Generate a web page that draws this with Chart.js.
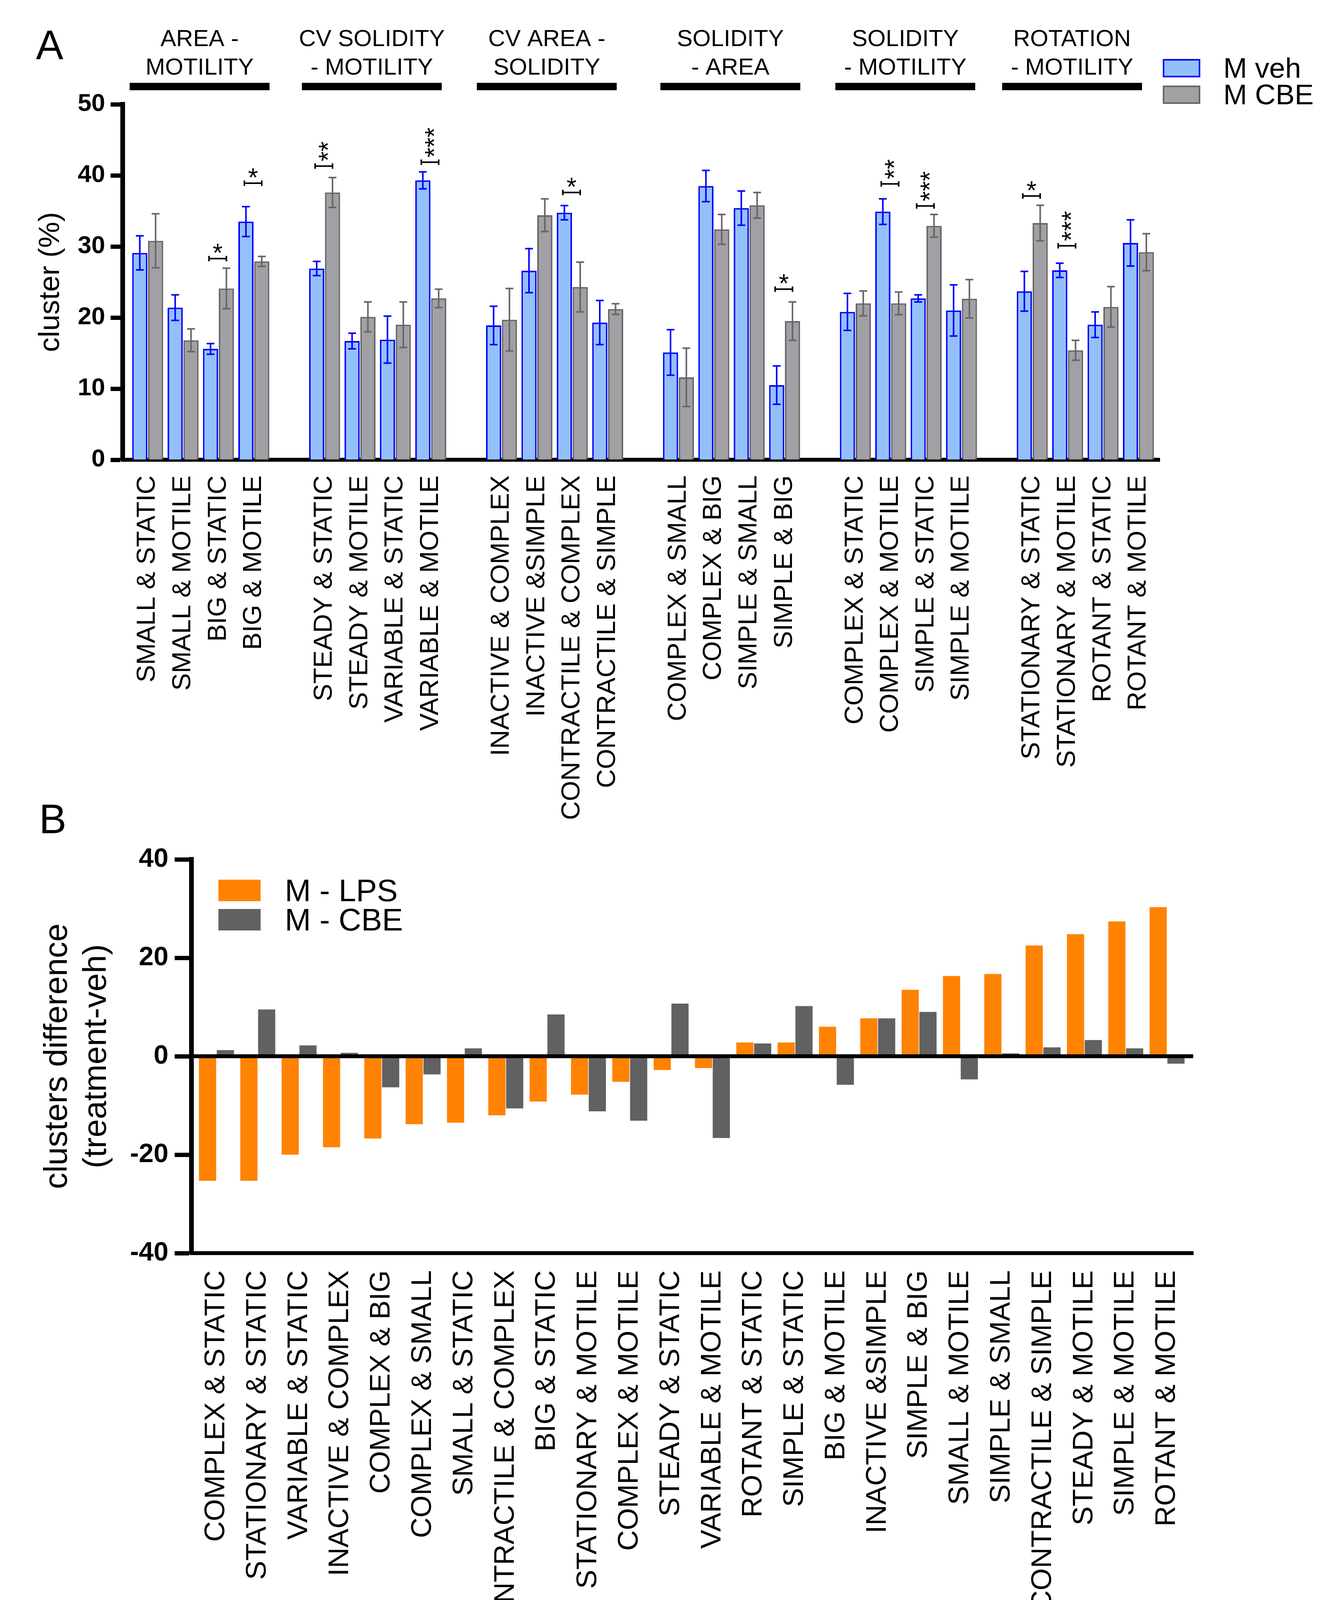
<!DOCTYPE html>
<html><head><meta charset="utf-8">
<script src="https://cdn.jsdelivr.net/npm/chart.js@4.4.1/dist/chart.umd.min.js"></script>
<style>
html,body{margin:0;padding:0;background:#fff;width:3404px;height:4280px;overflow:hidden}
canvas{position:absolute;left:0}
</style></head>
<body>
<canvas id="ca" width="3404" height="2200" style="top:0;width:3404px;height:2200px"></canvas>
<canvas id="cb" width="3404" height="2280" style="top:2000px;width:3404px;height:2280px"></canvas>
<script>
const FONT = "'Liberation Sans', Arial, Helvetica, sans-serif";

// ---------- Panel A data ----------
const groupsA = [
  ['AREA -', 'MOTILITY'],
  ['CV SOLIDITY', '- MOTILITY'],
  ['CV AREA -', 'SOLIDITY'],
  ['SOLIDITY', '- AREA'],
  ['SOLIDITY', '- MOTILITY'],
  ['ROTATION', '- MOTILITY']
];
const categoriesA = [
  'SMALL & STATIC', 'SMALL & MOTILE', 'BIG & STATIC', 'BIG & MOTILE',
  'STEADY & STATIC', 'STEADY & MOTILE', 'VARIABLE & STATIC', 'VARIABLE & MOTILE',
  'INACTIVE & COMPLEX', 'INACTIVE &SIMPLE', 'CONTRACTILE & COMPLEX', 'CONTRACTILE & SIMPLE',
  'COMPLEX & SMALL', 'COMPLEX & BIG', 'SIMPLE & SMALL', 'SIMPLE & BIG',
  'COMPLEX & STATIC', 'COMPLEX & MOTILE', 'SIMPLE & STATIC', 'SIMPLE & MOTILE',
  'STATIONARY & STATIC', 'STATIONARY & MOTILE', 'ROTANT & STATIC', 'ROTANT & MOTILE'
];
const vehMean = [29.1, 21.4, 15.6, 33.5, 26.9, 16.7, 16.9, 39.3, 18.9, 26.6, 34.75, 19.3,
                 15.1, 38.5, 35.4, 10.5, 20.8, 34.9, 22.7, 21.0, 23.7, 26.65, 19.0, 30.5];
const vehErr  = [2.4, 1.8, 0.75, 2.1, 1.0, 1.1, 3.3, 1.2, 2.7, 3.1, 1.0, 3.1,
                 3.2, 2.2, 2.4, 2.7, 2.6, 1.8, 0.5, 3.6, 2.8, 1.0, 1.8, 3.25];
const cbeMean = [30.8, 16.8, 24.1, 27.9, 37.6, 20.1, 19.0, 22.7, 19.7, 34.4, 24.3, 21.2,
                 11.6, 32.4, 35.8, 19.5, 22.0, 22.0, 32.9, 22.65, 33.3, 15.4, 21.5, 29.2];
const cbeErr  = [3.8, 1.6, 2.85, 0.7, 2.1, 2.1, 3.2, 1.3, 4.4, 2.3, 3.5, 0.75,
                 4.1, 2.1, 1.8, 2.7, 1.75, 1.6, 1.6, 2.7, 2.5, 1.4, 2.85, 2.6];
const ticksA = [0, 10, 20, 30, 40, 50];
// significance: category index, label, bracket height (y value)
const sigIndex = [2, 3, 4, 7, 10, 15, 17, 18, 20, 21];
const sigStars = ['*', '*', '**', '***', '*', '*', '**', '***', '*', '***'];
const sigY     = [28.3, 38.9, 41.3, 41.85, 37.6, 24.0, 38.8, 35.7, 37.1, 30.1];

// ---------- Panel B data ----------
const categoriesB = [
  'COMPLEX & STATIC', 'STATIONARY & STATIC', 'VARIABLE & STATIC', 'INACTIVE & COMPLEX',
  'COMPLEX & BIG', 'COMPLEX & SMALL', 'SMALL & STATIC', 'CONTRACTILE & COMPLEX',
  'BIG & STATIC', 'STATIONARY & MOTILE', 'COMPLEX & MOTILE', 'STEADY & STATIC',
  'VARIABLE & MOTILE', 'ROTANT & STATIC', 'SIMPLE & STATIC', 'BIG & MOTILE',
  'INACTIVE &SIMPLE', 'SIMPLE & BIG', 'SMALL & MOTILE', 'SIMPLE & SMALL',
  'CONTRACTILE & SIMPLE', 'STEADY & MOTILE', 'SIMPLE & MOTILE', 'ROTANT & MOTILE'
];
const lpsDiff = [-25.3, -25.3, -20.0, -18.5, -16.7, -13.8, -13.5, -12.0, -9.2, -7.8, -5.2, -2.8,
                 -2.4, 2.8, 2.8, 6.0, 7.7, 13.5, 16.3, 16.7, 22.5, 24.8, 27.4, 30.3];
const cbeDiff = [1.25, 9.5, 2.2, 0.7, -6.3, -3.7, 1.6, -10.6, 8.5, -11.2, -13.1, 10.7,
                 -16.6, 2.6, 10.2, -5.8, 7.7, 9.0, -4.7, 0.6, 1.8, 3.3, 1.6, -1.5];
const ticksB = [-40, -20, 0, 20, 40];

// ---------- helpers ----------
Chart.defaults.font.family = FONT;
Chart.defaults.color = '#000';

const slotA = categoriesA.map((_, i) => Math.floor(i / 4) * 5 + (i % 4));
const labelBySlotA = {};
slotA.forEach((s, i) => { labelBySlotA[s] = categoriesA[i]; });
const slotB = categoriesB.map((_, i) => i);

const VEH_FILL = '#94C0FA', VEH_LINE = '#0000FF';
const CBE_FILL = '#A1A0A5', CBE_LINE = '#666666';
const LPS_COL = '#FF8200', CBEB_COL = '#616161';

const errorBars = {
  id: 'errorBars',
  afterDatasetsDraw(chart) {
    const { ctx, scales: { y } } = chart;
    chart.data.datasets.forEach((ds, di) => {
      if (!ds.errors) return;
      const meta = chart.getDatasetMeta(di);
      ctx.save();
      ctx.strokeStyle = ds.errColor;
      ctx.lineWidth = 4;
      meta.data.forEach((el, j) => {
        const v = ds.data[j].y, e = ds.errors[j];
        const yt = y.getPixelForValue(v + e), yb = y.getPixelForValue(v - e);
        ctx.beginPath();
        ctx.moveTo(el.x, yt); ctx.lineTo(el.x, yb);
        ctx.moveTo(el.x - 10, yt); ctx.lineTo(el.x + 10, yt);
        ctx.moveTo(el.x - 10, yb); ctx.lineTo(el.x + 10, yb);
        ctx.stroke();
      });
      ctx.restore();
    });
  }
};

const sigPlugin = {
  id: 'sig',
  afterDatasetsDraw(chart) {
    const { ctx, scales: { y } } = chart;
    const m0 = chart.getDatasetMeta(0), m1 = chart.getDatasetMeta(1);
    ctx.save();
    ctx.strokeStyle = '#000'; ctx.fillStyle = '#000'; ctx.lineWidth = 4;
    sigIndex.forEach((idx, k) => {
      const x0 = m0.data[idx].x - 4, x1 = m1.data[idx].x;
      const yy = y.getPixelForValue(sigY[k]);
      ctx.beginPath();
      ctx.moveTo(x0, yy); ctx.lineTo(x1, yy);
      ctx.moveTo(x0, yy - 7); ctx.lineTo(x0, yy + 7);
      ctx.moveTo(x1, yy - 7); ctx.lineTo(x1, yy + 7);
      ctx.stroke();
      const cx = (x0 + x1) / 2;
      ctx.font = `66px ${FONT}`;
      if (sigStars[k].length === 1) {
        ctx.textAlign = 'center'; ctx.textBaseline = 'alphabetic';
        ctx.fillText(sigStars[k], cx, yy + 8);
      } else {
        ctx.save();
        ctx.translate(cx + 15, yy - 12);
        ctx.rotate(-Math.PI / 2);
        ctx.textAlign = 'left'; ctx.textBaseline = 'middle';
        ctx.fillText(sigStars[k], 0, 0);
        ctx.restore();
      }
    });
    ctx.restore();
  }
};

const HEADER_SHIFT = [-3, -15, -20, -3, -8, -34];
const decorA = {
  id: 'decorA',
  afterDraw(chart) {
    const { ctx, scales: { x } } = chart;
    ctx.save();
    ctx.fillStyle = '#000';
    ctx.font = `60px ${FONT}`;
    ctx.textAlign = 'center'; ctx.textBaseline = 'alphabetic';
    groupsA.forEach((g, gi) => {
      const cx = x.getPixelForValue(gi * 5 + 1.5) + HEADER_SHIFT[gi];
      ctx.fillRect(cx - 179, 212, 358, 19);
      ctx.fillText(g[0], cx, 118);
      ctx.fillText(g[1], cx, 191);
    });
    ctx.font = `105px ${FONT}`;
    ctx.textAlign = 'left';
    ctx.fillText('A', 92, 151);
    // legend
    const ds = chart.data.datasets;
    const rows = [151, 219];
    ds.forEach((d, i) => {
      ctx.fillStyle = d.backgroundColor;
      ctx.fillRect(2976, rows[i], 96, 47);
      ctx.strokeStyle = d.borderColor; ctx.lineWidth = 4;
      ctx.strokeRect(2978, rows[i] + 2, 92, 43);
      ctx.fillStyle = '#000';
      ctx.font = `73px ${FONT}`;
      ctx.fillText(d.label, 3131, rows[i] + 48);
    });
    ctx.restore();
  }
};

new Chart(document.getElementById('ca'), {
  type: 'bar',
  data: {
    datasets: [
      { label: 'M veh', data: vehMean.map((v, i) => ({ x: slotA[i], y: v })),
        backgroundColor: VEH_FILL, borderColor: VEH_LINE, borderWidth: 4,
        errors: vehErr, errColor: VEH_LINE, categoryPercentage: 0.894, barPercentage: 0.96 },
      { label: 'M CBE', data: cbeMean.map((v, i) => ({ x: slotA[i], y: v })),
        backgroundColor: CBE_FILL, borderColor: CBE_LINE, borderWidth: 4,
        errors: cbeErr, errColor: CBE_LINE, categoryPercentage: 0.894, barPercentage: 0.96 }
    ]
  },
  options: {
    responsive: false, animation: false, devicePixelRatio: 1,
    layout: { padding: { left: 0, top: 267, right: 436, bottom: 0 } },
    plugins: { legend: { display: false }, tooltip: { enabled: false } },
    scales: {
      x: {
        type: 'linear', min: -0.707, max: 28.6, offset: false, bounds: 'data',
        grid: { display: false, drawTicks: false, offset: false },
        border: { display: true, width: 10, color: '#000' },
        afterBuildTicks: s => { s.ticks = slotA.map(v => ({ value: v })); },
        afterFit: s => { s.height = 1023; },
        ticks: { autoSkip: false, minRotation: 90, maxRotation: 90, padding: 40,
                 font: { size: 67 }, callback: v => labelBySlotA[v] ?? '' }
      },
      y: {
        min: 0, max: 50,
        afterBuildTicks: s => { s.ticks = ticksA.map(v => ({ value: v })); },
        afterFit: s => { s.width = 314; },
        ticks: { padding: 14, font: { size: 63, weight: 'bold' } },
        grid: { display: true, drawOnChartArea: false, drawTicks: true, tickLength: 31,
                tickWidth: 11, tickColor: '#000' },
        border: { display: true, width: 12, color: '#000' },
        title: { display: true, text: 'cluster (%)', font: { size: 75 }, padding: { top: 85, bottom: 0 } }
      }
    }
  },
  plugins: [errorBars, sigPlugin, decorA]
});

// ---------- Panel B ----------
const decorB = {
  id: 'decorB',
  afterDatasetsDraw(chart) {
    const { ctx, scales: { y }, chartArea } = chart;
    const y0 = y.getPixelForValue(0);
    ctx.save();
    ctx.fillStyle = '#000';
    ctx.fillRect(chartArea.left, y0 - 5, chartArea.right - chartArea.left, 10);
    ctx.restore();
  },
  afterDraw(chart) {
    const { ctx } = chart;
    ctx.save();
    ctx.fillStyle = '#000';
    ctx.font = `105px ${FONT}`;
    ctx.textAlign = 'left'; ctx.textBaseline = 'alphabetic';
    ctx.fillText('B', 100, 133);
    const rows = [252, 327];
    chart.data.datasets.forEach((d, i) => {
      ctx.fillStyle = d.backgroundColor;
      ctx.fillRect(559, rows[i], 108, 55);
      ctx.fillStyle = '#000';
      ctx.font = `80px ${FONT}`;
      ctx.fillText(d.label, 729, rows[i] + 55);
    });
    ctx.restore();
  }
};

new Chart(document.getElementById('cb'), {
  type: 'bar',
  data: {
    datasets: [
      { label: 'M - LPS', data: lpsDiff.map((v, i) => ({ x: slotB[i], y: v })),
        backgroundColor: LPS_COL, borderWidth: 0, categoryPercentage: 0.86, barPercentage: 0.967 },
      { label: 'M - CBE', data: cbeDiff.map((v, i) => ({ x: slotB[i], y: v })),
        backgroundColor: CBEB_COL, borderWidth: 0, categoryPercentage: 0.86, barPercentage: 0.967 }
    ]
  },
  options: {
    responsive: false, animation: false, devicePixelRatio: 1,
    layout: { padding: { left: 0, top: 200, right: 350, bottom: 0 } },
    plugins: { legend: { display: false }, tooltip: { enabled: false } },
    scales: {
      x: {
        type: 'linear', min: -0.605, max: 23.633, offset: false, bounds: 'data',
        grid: { display: false, drawTicks: false, offset: false },
        border: { display: true, width: 10, color: '#000' },
        afterBuildTicks: s => { s.ticks = slotB.map(v => ({ value: v })); },
        afterFit: s => { s.height = 1072; },
        ticks: { autoSkip: false, minRotation: 90, maxRotation: 90, padding: 44,
                 font: { size: 73 }, callback: v => categoriesB[v] ?? '' }
      },
      y: {
        min: -40, max: 40,
        afterBuildTicks: s => { s.ticks = ticksB.map(v => ({ value: v })); },
        afterFit: s => { s.width = 490; },
        ticks: { padding: 16, font: { size: 68, weight: 'bold' } },
        grid: { display: true, drawOnChartArea: false, drawTicks: true, tickLength: 43,
                tickWidth: 11, tickColor: '#000' },
        border: { display: true, width: 12, color: '#000' },
        title: { display: true, text: ['clusters difference', '(treatment-veh)'],
                 font: { size: 84, lineHeight: 1.2 }, padding: { top: 97, bottom: 0 } }
      }
    }
  },
  plugins: [decorB]
});
</script>
</body></html>
